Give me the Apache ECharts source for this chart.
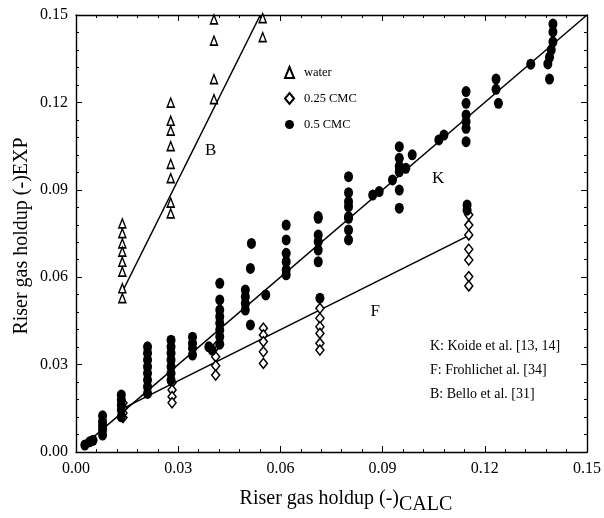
<!DOCTYPE html>
<html>
<head>
<meta charset="utf-8">
<script src="https://cdn.jsdelivr.net/npm/echarts@6/dist/echarts.min.js"></script>
<style>html,body{margin:0;padding:0;background:#fff}#c{width:604px;height:518px}</style>
</head>
<body>
<div id="c"></div>
<script>
// ---- data ----
var xTicks = [0, 0.03, 0.06, 0.09, 0.12, 0.15];
var yTicks = [0, 0.03, 0.06, 0.09, 0.12, 0.15];
var seriesNames = ['water', '0.25 CMC', '0.5 CMC'];

var waterData = [
  [0.0136,0.0785],[0.0136,0.0751],[0.0136,0.0716],[0.0136,0.0688],[0.0136,0.0653],[0.0136,0.0619],[0.0136,0.0562],[0.0136,0.0528],
  [0.0278,0.1199],[0.0278,0.1137],[0.0278,0.1103],[0.0278,0.1050],[0.0278,0.0989],[0.0278,0.0940],[0.0278,0.0856],[0.0278,0.0819],
  [0.0405,0.1485],[0.0405,0.1412],[0.0405,0.1280],[0.0405,0.1211],
  [0.0548,0.1489],[0.0548,0.1424]
];

var cmc25Data = [
  [0.0138,0.0168],[0.0138,0.0150],[0.0138,0.0134],[0.0138,0.0118],
  [0.0282,0.0238],[0.0282,0.0213],[0.0282,0.0190],[0.0282,0.0169],
  [0.0410,0.0361],[0.0410,0.0327],[0.0410,0.0296],[0.0410,0.0264],
  [0.0550,0.0425],[0.0550,0.0402],[0.0550,0.0379],[0.0550,0.0344],[0.0550,0.0304],
  [0.0716,0.0493],[0.0716,0.0459],[0.0716,0.0430],[0.0716,0.0407],[0.0716,0.0373],[0.0716,0.0350],
  [0.1153,0.0814],[0.1153,0.0779],[0.1153,0.0745],[0.1153,0.0696],[0.1153,0.0659],[0.1153,0.0602],[0.1153,0.0570]
];

var cmc50Data = [
  [0.0026,0.0024],[0.0040,0.0035],[0.0050,0.0040],
  [0.0078,0.0124],[0.0078,0.0104],[0.0078,0.0090],[0.0078,0.0076],[0.0078,0.0058],
  [0.0133,0.0196],[0.0133,0.0179],[0.0133,0.0161],[0.0133,0.0144],[0.0133,0.0121],
  [0.0210,0.0361],[0.0210,0.0339],[0.0210,0.0316],[0.0210,0.0293],[0.0210,0.0270],[0.0210,0.0247],[0.0210,0.0224],[0.0210,0.0201],
  [0.0279,0.0384],[0.0279,0.0361],[0.0279,0.0339],[0.0279,0.0316],[0.0279,0.0293],[0.0279,0.0270],[0.0279,0.0247],
  [0.0342,0.0394],[0.0342,0.0373],[0.0342,0.0356],[0.0342,0.0333],
  [0.0390,0.0361],[0.0400,0.0350],
  [0.0422,0.0579],[0.0422,0.0522],[0.0422,0.0487],[0.0422,0.0465],[0.0422,0.0442],[0.0422,0.0419],[0.0422,0.0396],[0.0422,0.0370],
  [0.0497,0.0556],[0.0497,0.0533],[0.0497,0.0510],[0.0497,0.0487],[0.0515,0.0716],[0.0512,0.0630],[0.0512,0.0436],
  [0.0557,0.0539],
  [0.0617,0.0779],[0.0617,0.0728],[0.0617,0.0682],[0.0617,0.0653],[0.0617,0.0625],[0.0617,0.0608],
  [0.0711,0.0808],[0.0711,0.0802],[0.0711,0.0745],[0.0711,0.0722],[0.0711,0.0693],[0.0711,0.0653],[0.0716,0.0528],
  [0.0800,0.0945],[0.0800,0.0890],[0.0800,0.0859],[0.0800,0.0842],[0.0800,0.0808],[0.0800,0.0802],[0.0800,0.0762],[0.0800,0.0728],
  [0.0871,0.0882],[0.0890,0.0894],[0.0929,0.0934],
  [0.0949,0.1048],[0.0949,0.1008],[0.0949,0.0980],[0.0949,0.0962],[0.0949,0.0899],[0.0949,0.0837],
  [0.0968,0.0974],[0.0987,0.1020],
  [0.1065,0.1071],[0.1080,0.1088],
  [0.1145,0.1237],[0.1145,0.1197],[0.1145,0.1157],[0.1145,0.1134],[0.1145,0.1111],[0.1145,0.1065],[0.1148,0.0848],[0.1148,0.0830],
  [0.1233,0.1280],[0.1233,0.1245],[0.1240,0.1197],
  [0.1335,0.1331],
  [0.1400,0.1469],[0.1400,0.1442],[0.1400,0.1408],[0.1395,0.1380],[0.1390,0.1355],[0.1385,0.1332],[0.1390,0.1280]
];

var lineK = [[0.002,0.002],[0.15,0.15]];
var lineF = [[0.0138,0.0150],[0.1148,0.0740]];
var lineB = [[0.0136,0.0550],[0.0541,0.1500]];

var labelTexts = [
  {t:'B', x:0.0395, y:0.1035},
  {t:'K', x:0.1063, y:0.0940},
  {t:'F', x:0.0878, y:0.0482}
];
var refTexts = ['K: Koide et al. [13, 14]', 'F: Frohlichet al. [34]', 'B: Bello et al. [31]'];

// ---- chart ----
var FONT = 'Liberation Serif';
var chart = echarts.init(document.getElementById('c'), null, {renderer:'canvas'});

function axisCommon(show) {
  return {
    type:'value', min:0, max:0.15, interval:0.03,
    axisLine:{show:true, onZero:false, lineStyle:{color:'#000', width:1.4}},
    axisTick:{show:true, inside:true, length:6, lineStyle:{color:'#000', width:1}},
    minorTick:{show:true, splitNumber:5, length:3, lineStyle:{color:'#000', width:1}},
    splitLine:{show:false},
    axisLabel:{show:show, fontFamily:FONT, fontSize:16, color:'#000',
      formatter:function(v){return v.toFixed(2);}}
  };
}
var xB = axisCommon(true); xB.position='bottom'; xB.axisLabel.margin = 9;
var xT = axisCommon(false); xT.position='top';
var yL = axisCommon(true); yL.position='left'; yL.axisLabel.margin = 8;
var yR = axisCommon(false); yR.position='right';

var lineStyle = {color:'#000', width:1.5};
function lineSeries(d){
  return {type:'line', data:d, xAxisIndex:0, yAxisIndex:0, showSymbol:false, symbol:'none',
    lineStyle:lineStyle, silent:true, z:1};
}

var graphics = [];
labelTexts.forEach(function(l){
  graphics.push({type:'text', id:'lab'+l.t, z:10,
    style:{text:l.t, fontFamily:FONT, fontSize:17, fill:'#000', align:'center', verticalAlign:'middle'},
    _v:[l.x,l.y]});
});
refTexts.forEach(function(t,i){
  graphics.push({type:'text', left:430, top:339 + i*24, z:10,
    style:{text:t, fontFamily:FONT, fontSize:14, fill:'#000'}});
});
graphics.push({type:'text', x:399, y:499, z:10,
  style:{text:'Riser gas holdup (-)', fontFamily:FONT, fontSize:20, fill:'#000', align:'right', verticalAlign:'middle'}});
graphics.push({type:'text', x:399, y:505, z:10,
  style:{text:'CALC', fontFamily:FONT, fontSize:20, fill:'#000', align:'left', verticalAlign:'middle'}});
graphics.push({type:'text', x:22, y:236, rotation:Math.PI/2, z:10,
  style:{text:'Riser gas holdup (-)EXP', fontFamily:FONT, fontSize:20, fill:'#000', align:'center', verticalAlign:'middle'}});

var option = {
  backgroundColor:'#fff',
  animation:false,
  grid:{left:76, right:13, top:15, bottom:66, containLabel:false},
  xAxis:[xB, xT],
  yAxis:[yL, yR],
  legend:{
    orient:'vertical', left:279, top:61, itemGap:13, itemWidth:9, itemHeight:11,
    data:seriesNames,
    textStyle:{fontFamily:FONT, fontSize:12.5, color:'#000', padding:[0,0,0,5]}
  },
  series:[
    lineSeries(lineK), lineSeries(lineF), lineSeries(lineB),
    {name:seriesNames[0], type:'scatter', data:waterData, symbol:'triangle', symbolSize:[7,9],
      itemStyle:{color:'#fff', borderColor:'#000', borderWidth:1.5, opacity:1}, z:3},
    {name:seriesNames[1], type:'scatter', data:cmc25Data, symbol:'diamond', symbolSize:[8,10],
      itemStyle:{color:'#fff', borderColor:'#000', borderWidth:1.5, opacity:1}, z:3},
    {name:seriesNames[2], type:'scatter', data:cmc50Data, symbol:'circle', symbolSize:[9,11],
      itemStyle:{color:'#000', borderColor:'#000', borderWidth:0, opacity:1}, z:4}
  ]
};
chart.setOption(option);

// place annotation letters via data->pixel conversion
var placed = graphics.map(function(g){
  if (g._v) {
    var p = chart.convertToPixel({xAxisIndex:0, yAxisIndex:0}, g._v);
    var c = Object.assign({}, g); delete c._v; c.x = p[0]; c.y = p[1];
    return c;
  }
  return g;
});
chart.setOption({graphic:placed});
</script>
</body>
</html>
